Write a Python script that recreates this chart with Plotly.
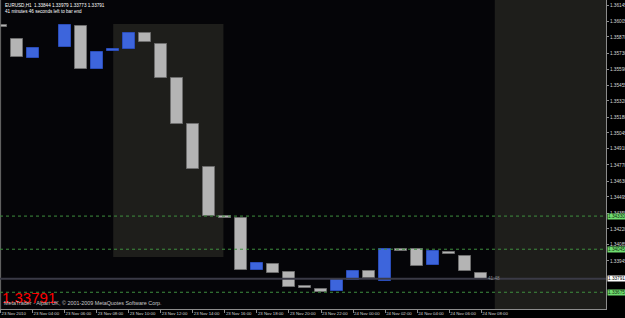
import plotly.graph_objects as go

# ---------------- data ----------------
bar_index = list(range(31))
opens = [1.35964, 1.35853, 1.35689, None, 1.35784, 1.35964, 1.35595, 1.35750,
         1.35767, 1.35904, 1.35810, 1.35517, 1.35122, 1.34752, 1.34325, 1.34313,
         1.33866, 1.33918, 1.33849, 1.33722, 1.33703, 1.33685, 1.33780, 1.33857,
         1.33771, 1.34047, 1.34047, 1.33909, 1.34021, 1.33986, 1.33844]
closes = [1.35964, 1.35698, 1.35775, None, 1.35973, 1.35595, 1.35741, 1.35762,
          1.35904, 1.35827, 1.35517, 1.35122, 1.34735, 1.34330, 1.34318, 1.33866,
          1.33926, 1.33840, 1.33720, 1.33716, 1.33677, 1.33789, 1.33857, 1.33797,
          1.34047, 1.34029, 1.33900, 1.34029, 1.34004, 1.33857, 1.33791]

date_ticks = [0, 2, 4, 6, 8, 10, 12, 14, 16, 18, 20, 22, 24, 26, 28, 30]
date_labels = ["23 Nov 2010", "23 Nov 04:00", "23 Nov 06:00", "23 Nov 08:00",
               "23 Nov 10:00", "23 Nov 12:00", "23 Nov 14:00", "23 Nov 16:00",
               "23 Nov 18:00", "23 Nov 20:00", "23 Nov 22:00", "24 Nov 00:00",
               "24 Nov 02:00", "24 Nov 04:00", "24 Nov 06:00", "24 Nov 08:00"]

price_ticks = [1.36145, 1.36005, 1.35870, 1.35730, 1.35590, 1.35455, 1.35320,
               1.35180, 1.35045, 1.34910, 1.34770, 1.34630, 1.34495, 1.34355,
               1.34220, 1.34085, 1.33945, 1.33530]

level_lines = [1.34330, 1.34045, 1.33675]
bid_price = 1.33791
title_text = "EURUSD,H1  1.33844 1.33979 1.33773 1.33791"
timer_text = "41 minutes 46 seconds left to bar end"
countdown = "41:48"
copyright_text = "MetaTrader - Alpari UK, \u00a9 2001-2009 MetaQuotes Software Corp."

# ---------------- styles ----------------
BLUE, BLUE_EDGE = "#3d65dc", "#2a4cb8"
GRAY, GRAY_EDGE = "#b4b4b4", "#6e6e6e"
AXIS = "#8c8c8c"
TXT = "#d6d6d6"
FONT = "Liberation Sans"
MIN_H = 0.00016

xs, bases, heights, fills, edges = [], [], [], [], []
for i, o, c in zip(bar_index, opens, closes):
    if o is None or c is None:
        continue
    lo, h = min(o, c), abs(c - o)
    if h < MIN_H:
        lo, h = (o + c) / 2 - MIN_H / 2, MIN_H
    up = c > o
    xs.append(i)
    bases.append(lo)
    heights.append(h)
    fills.append(BLUE if up else GRAY)
    edges.append(BLUE_EDGE if up else GRAY_EDGE)

fig = go.Figure(go.Bar(
    x=xs, y=heights, base=bases, width=0.75,
    marker=dict(color=fills, line=dict(color=edges, width=1)),
    hoverinfo="skip",
))

shapes = [
    dict(type="rect", xref="x", yref="y", x0=7.03, x1=13.91, y0=1.33978, y1=1.35982,
         fillcolor="#1e1e1b", line=dict(width=0), layer="below"),
    dict(type="rect", xref="x", yref="paper", x0=30.84, x1=37.8, y0=0, y1=1,
         fillcolor="#1e1e1b", line=dict(width=0), layer="below"),
    dict(type="line", xref="paper", yref="paper", x0=0.001, x1=0.001, y0=0, y1=1,
         line=dict(color="#6a6a6a", width=1)),
]
for lv in level_lines:
    shapes.append(dict(type="line", xref="paper", yref="y", x0=0, x1=1, y0=lv, y1=lv,
                       line=dict(color="#3f8f3f", width=1, dash="dot")))
shapes.append(dict(type="line", xref="paper", yref="y", x0=0, x1=1, y0=bid_price, y1=bid_price,
                   line=dict(color="#3a3a46", width=2)))

annotations = [
    dict(xref="paper", yref="paper", x=0, y=1, xanchor="left", yanchor="top",
         text=title_text + "<br>" + timer_text, showarrow=False, align="left",
         font=dict(family=FONT, size=4.6, color="#ffffff"), xshift=3, yshift=-1),
    dict(xref="paper", yref="paper", x=0, y=0, xanchor="left", yanchor="bottom",
         text=f"{bid_price:.5f}", showarrow=False,
         font=dict(family=FONT, size=15, color="#ff0000"), xshift=0, yshift=1),
    dict(xref="paper", yref="paper", x=0, y=0, xanchor="left", yanchor="bottom",
         text=copyright_text, showarrow=False,
         font=dict(family=FONT, size=5.4, color="#c8c8c8"), xshift=2, yshift=1),
    dict(xref="x", yref="y", x=30.3, y=bid_price, xanchor="left", yanchor="middle",
         text=countdown, showarrow=False,
         font=dict(family=FONT, size=4.6, color="#8a8a8a")),
]
for lv in level_lines:
    annotations.append(dict(xref="paper", yref="y", x=1, y=lv, xanchor="left", yanchor="middle",
                            text=f"{lv:.5f}", showarrow=False, bgcolor="#6fdc6f", borderpad=0,
                            font=dict(family=FONT, size=4.7, color="#103010"), xshift=1))
annotations.append(dict(xref="paper", yref="y", x=1, y=bid_price, xanchor="left", yanchor="middle",
                        text=f"{bid_price:.5f}", showarrow=False, bgcolor="#ffffff", borderpad=0,
                        font=dict(family=FONT, size=4.7, color="#000000"), xshift=1))

fig.update_layout(
    width=625, height=318,
    margin=dict(l=0, r=19, t=0, b=9),
    paper_bgcolor="#000000", plot_bgcolor="#050508",
    showlegend=False, bargap=0,
    shapes=shapes, annotations=annotations,
    xaxis=dict(range=[-0.031, 37.78], tickvals=date_ticks, ticktext=date_labels,
               ticks="outside", ticklen=3, tickcolor=AXIS, showline=True, linecolor=AXIS,
               showgrid=False, zeroline=False, automargin=False, tickangle=0,
               ticklabelposition="outside right",
               tickfont=dict(family=FONT, size=4.3, color=TXT)),
    yaxis=dict(range=[1.33531, 1.36188], side="right", tickvals=price_ticks,
               tickformat=".5f", ticks="outside", ticklen=2, tickcolor=AXIS,
               showline=True, linecolor=AXIS, showgrid=False, zeroline=False,
               automargin=False, tickfont=dict(family=FONT, size=4.7, color=TXT)),
)

fig.write_html("out.html")
